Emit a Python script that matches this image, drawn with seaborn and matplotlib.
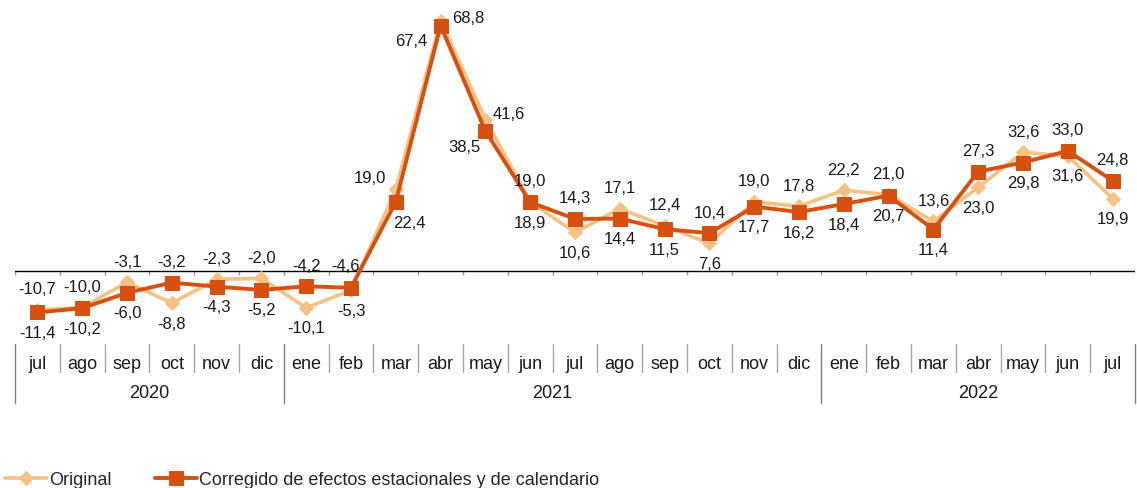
import matplotlib
matplotlib.use("Agg")
import matplotlib.pyplot as plt
import matplotlib.transforms as mtransforms
import pandas as pd
import seaborn as sns

# chart data
months = ["jul", "ago", "sep", "oct", "nov", "dic",
          "ene", "feb", "mar", "abr", "may", "jun", "jul", "ago", "sep", "oct", "nov", "dic",
          "ene", "feb", "mar", "abr", "may", "jun", "jul"]
years = ["2020", "2021", "2022"]
months_per_year = [6, 12, 7]
original = [-10.7, -10.0, -3.1, -8.8, -2.3, -2.0,
            -10.1, -5.3, 22.4, 68.8, 41.6, 19.0, 10.6, 17.1, 12.4, 7.6, 19.0, 17.8,
            22.2, 21.0, 13.6, 23.0, 32.6, 31.6, 19.9]
corregido = [-11.4, -10.2, -6.0, -3.2, -4.3, -5.2,
             -4.2, -4.6, 19.0, 67.4, 38.5, 18.9, 14.3, 14.4, 11.5, 10.4, 17.7, 16.2,
             18.4, 20.7, 11.4, 27.3, 29.8, 33.0, 24.8]
series_names = ["Original", "Corregido de efectos estacionales y de calendario"]

ORIG_COLOR = "#F6C283"
CORR_COLOR = "#D8500F"

W, H, DPI = 1137, 489, 100
sns.set_style("white")
plt.rcParams["font.family"] = ["Liberation Sans", "DejaVu Sans"]

fig = plt.figure(figsize=(W / DPI, H / DPI), dpi=DPI)

# pixel layout
left_px, right_px = 15, 1135
top_px, bottom_px = 5, 340
zero_px = 272
scale = 3.64  # px per unit
ymax = (zero_px - top_px) / scale
ymin = -(bottom_px - zero_px) / scale

ax = fig.add_axes([left_px / W, 1 - bottom_px / H, (right_px - left_px) / W, (bottom_px - top_px) / H])

n = len(months)
x = list(range(n))
df = pd.DataFrame({"x": x, "Original": original, "Corregido": corregido})

sns.lineplot(data=df, x="x", y="Original", ax=ax, color=ORIG_COLOR, lw=2.6,
             marker="D", markersize=7, markeredgecolor=ORIG_COLOR, zorder=3,
             label=series_names[0])
sns.lineplot(data=df, x="x", y="Corregido", ax=ax, color=CORR_COLOR, lw=2.8,
             marker="s", markersize=9.5, markeredgecolor=CORR_COLOR, zorder=4,
             label=series_names[1])

ax.set_xlim(-0.5, n - 0.5)
ax.set_ylim(ymin, ymax)
for s in ax.spines.values():
    s.set_visible(False)
ax.set_xticks([])
ax.set_yticks([])
ax.set_xlabel("")
ax.set_ylabel("")
ax.get_legend().remove()

# zero axis with small ticks at category boundaries
ax.axhline(0, color="black", lw=1, zorder=2)
bounds = [i - 0.5 for i in range(n + 1)]
ax.vlines(bounds, -4 / scale, 0, color="#9a9a9a", lw=1, zorder=1)

# data labels
def fmt(v):
    return f"{v:.1f}".replace(".", ",")

px2pt = 72 / DPI
special = {
    (7, 1): (-6, -22),
    (8, 0): (14, 33), (8, 1): (-26, -24),
    (9, 0): (28, -3), (9, 1): (-29, 15),
    (10, 0): (23, -6), (10, 1): (-21, 16),
}
for i in range(n):
    vals = [original[i], corregido[i]]
    hi = 0 if vals[0] >= vals[1] else 1
    for k in (0, 1):
        if (i, k) in special:
            dx, dy = special[(i, k)]
        else:
            dx, dy = (0, -21) if k == hi else (0, 20)
        ax.annotate(fmt(vals[k]), (i, vals[k]), xytext=(dx * px2pt, -dy * px2pt),
                    textcoords="offset points", ha="center", va="center",
                    fontsize=12, color="#1a1a1a", zorder=5)

# category table below
trans = mtransforms.blended_transform_factory(ax.transData, fig.transFigure)
fy = lambda py: 1 - py / H
year_edges = [-0.5]
for m in months_per_year:
    year_edges.append(year_edges[-1] + m)
for i, b in enumerate(bounds):
    if b in year_edges:
        y0, y1 = 345, 404
        col = "#7f7f7f"
    else:
        y0, y1 = 345, 373
        col = "#a6a6a6"
    ax.plot([b, b], [fy(y0), fy(y1)], transform=trans, color=col, lw=1, clip_on=False)
for i, m in enumerate(months):
    ax.text(i, fy(365), m, transform=trans, ha="center", va="center", fontsize=13, color="#1a1a1a")
for j, yr in enumerate(years):
    ax.text((year_edges[j] + year_edges[j + 1]) / 2, fy(393), yr, transform=trans,
            ha="center", va="center", fontsize=13, color="#1a1a1a")

# legend
handles, labels = ax.get_legend_handles_labels()
fig.legend(handles, labels, loc="center left", bbox_to_anchor=(0.004, fy(481)),
           ncol=2, frameon=False, fontsize=13, handlelength=2.35, handletextpad=0.1,
           columnspacing=2.4, borderaxespad=0, borderpad=0)

fig.savefig("out.png", dpi=DPI)
